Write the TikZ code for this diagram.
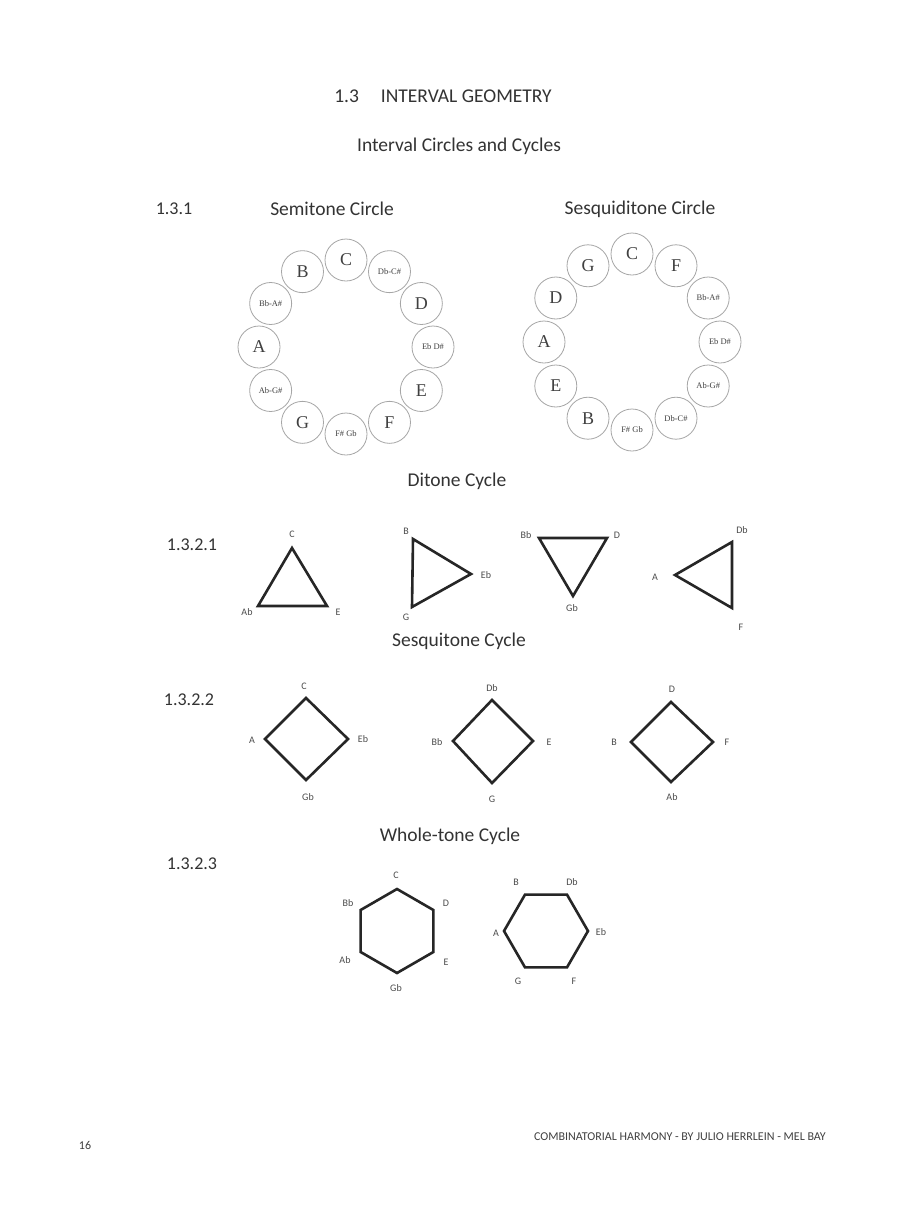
\documentclass[tikz,border=0pt]{standalone}
\usepackage{fontspec}
\setmainfont{Carlito}
\newfontfamily\notefont{Liberation Serif}
\usetikzlibrary{calc}
\tikzset{
    heading/.style={text=black!80,font=\fontsize{19.5}{22}\selectfont,inner sep=0pt},
    numbering/.style={heading,font=\fontsize{18}{22}\selectfont},
    notebig/.style={circle,draw=black!35,line width=0.8pt,minimum size=42pt,inner sep=0pt,
        text=black!75,font=\notefont\fontsize{18}{18}\selectfont},
    notesmall/.style={notebig,font=\notefont\fontsize{8.5}{8.5}\selectfont},
    cycleline/.style={black!85,line width=2.6pt,line join=miter},
    vlabel/.style={text=black!70,font=\fontsize{10}{10}\selectfont,inner sep=0pt},
    footer/.style={text=black!75,font=\fontsize{12}{13}\selectfont,inner sep=0pt}
}

\begin{document}
\begin{tikzpicture}[x=1pt,y=-1pt]
\useasboundingbox[fill=white] (0,0) rectangle (900,1210);

% headings
\node[heading] (title) at (443,96) {1.3\hspace{22pt}INTERVAL GEOMETRY};
\node[heading] (subtitle) at (459,146) {Interval Circles and Cycles};
\node[numbering] (num131) at (174,209) {1.3.1};
\node[heading] (semititle) at (332,209) {Semitone Circle};
\node[heading] (sesqtitle) at (640,209) {Sesquiditone Circle};

% semitone circle
\coordinate (semicentre) at (346,347);
\foreach \name/\lab/\sty [count=\i from 0] in {C/C/notebig,Db/Db-C\#/notesmall,D/D/notebig,
        Eb/Eb D\#/notesmall,E/E/notebig,F/F/notebig,Gb/F\# Gb/notesmall,G/G/notebig,
        Ab/Ab-G\#/notesmall,A/A/notebig,Bb/Bb-A\#/notesmall,B/B/notebig}
    \node[\sty] (semi\name) at ($(semicentre)+(-90+30*\i:87)$) {\lab};

% sesquiditone circle
\coordinate (sesqcentre) at (632,342);
\foreach \name/\lab/\sty [count=\i from 0] in {C/C/notebig,F/F/notebig,Bb/Bb-A\#/notesmall,
        Eb/Eb D\#/notesmall,Ab/Ab-G\#/notesmall,Db/Db-C\#/notesmall,Gb/F\# Gb/notesmall,
        B/B/notebig,E/E/notebig,A/A/notebig,D/D/notebig,G/G/notebig}
    \node[\sty] (sesq\name) at ($(sesqcentre)+(-90+30*\i:88)$) {\lab};

% ditone cycle
\node[heading] (dititle) at (457,481) {Ditone Cycle};
\node[numbering] (num1321) at (192,545) {1.3.2.1};

\coordinate (triaC) at (292,548);
\coordinate (triaE) at (327,606);
\coordinate (triaAb) at (258,606);
\draw[cycleline] (triaC) -- (triaE) -- (triaAb) -- cycle;
\node[vlabel] (labaC) at (292,534) {C};
\node[vlabel] (labaE) at (338,612) {E};
\node[vlabel] (labaAb) at (247,612) {Ab};

\coordinate (tribB) at (413,539);
\coordinate (tribEb) at (471,574);
\coordinate (tribG) at (412,607);
\draw[cycleline] (tribB) -- (tribEb) -- (tribG) -- cycle;
\node[vlabel] (labbB) at (406,531) {B};
\node[vlabel] (labbEb) at (486,575) {Eb};
\node[vlabel] (labbG) at (406,617) {G};

\coordinate (tricBb) at (539,538);
\coordinate (tricD) at (607,538);
\coordinate (tricGb) at (573,596);
\draw[cycleline] (tricBb) -- (tricD) -- (tricGb) -- cycle;
\node[vlabel] (labcBb) at (526,535) {Bb};
\node[vlabel] (labcD) at (617,535) {D};
\node[vlabel] (labcGb) at (572,608) {Gb};

\coordinate (tridA) at (675,575);
\coordinate (tridDb) at (732,542);
\coordinate (tridF) at (732,608);
\draw[cycleline] (tridA) -- (tridDb) -- (tridF) -- cycle;
\node[vlabel] (labdA) at (655,577) {A};
\node[vlabel] (labdDb) at (742,530) {Db};
\node[vlabel] (labdF) at (741,627) {F};

% sesquitone cycle
\node[heading] (sesqcycle) at (459,641) {Sesquitone Cycle};
\node[numbering] (num1322) at (189,700) {1.3.2.2};

\coordinate (sqaC) at (306,698);
\coordinate (sqaEb) at (348,739);
\coordinate (sqaGb) at (306,780);
\coordinate (sqaA) at (265,739);
\draw[cycleline] (sqaC) -- (sqaEb) -- (sqaGb) -- (sqaA) -- cycle;
\node[vlabel] (labsaC) at (304,686) {C};
\node[vlabel] (labsaEb) at (363,739) {Eb};
\node[vlabel] (labsaGb) at (308,797) {Gb};
\node[vlabel] (labsaA) at (252,740) {A};

\coordinate (sqbDb) at (492,700);
\coordinate (sqbE) at (533,741);
\coordinate (sqbG) at (492,783);
\coordinate (sqbBb) at (453,741);
\draw[cycleline] (sqbDb) -- (sqbE) -- (sqbG) -- (sqbBb) -- cycle;
\node[vlabel] (labsbDb) at (492,688) {Db};
\node[vlabel] (labsbE) at (549,742) {E};
\node[vlabel] (labsbG) at (492,799) {G};
\node[vlabel] (labsbBb) at (437,742) {Bb};

\coordinate (sqcD) at (671,702);
\coordinate (sqcF) at (713,742);
\coordinate (sqcAb) at (671,782);
\coordinate (sqcB) at (631,742);
\draw[cycleline] (sqcD) -- (sqcF) -- (sqcAb) -- (sqcB) -- cycle;
\node[vlabel] (labscD) at (672,689) {D};
\node[vlabel] (labscF) at (727,742) {F};
\node[vlabel] (labscAb) at (672,797) {Ab};
\node[vlabel] (labscB) at (614,742) {B};

% whole-tone cycle
\node[heading] (wholetitle) at (450,836) {Whole-tone Cycle};
\node[numbering] (num1323) at (192,864) {1.3.2.3};

\coordinate (hexacentre) at (397,931);
\foreach \name [count=\i from 0] in {C,D,E,Gb,Ab,Bb}
    \coordinate (hexa\name) at ($(hexacentre)+(-90+60*\i:42)$);
\draw[cycleline] (hexaC) -- (hexaD) -- (hexaE) -- (hexaGb) -- (hexaAb) -- (hexaBb) -- cycle;
\node[vlabel] (labhaC) at (396,875) {C};
\node[vlabel] (labhaD) at (446,903) {D};
\node[vlabel] (labhaE) at (446,962) {E};
\node[vlabel] (labhaGb) at (396,988) {Gb};
\node[vlabel] (labhaAb) at (345,960) {Ab};
\node[vlabel] (labhaBb) at (348,903) {Bb};

\coordinate (hexbcentre) at (546,931);
\foreach \name [count=\i from 0] in {Eb,F,G,A,B,Db}
    \coordinate (hexb\name) at ($(hexbcentre)+(60*\i:42)$);
\draw[cycleline] (hexbEb) -- (hexbF) -- (hexbG) -- (hexbA) -- (hexbB) -- (hexbDb) -- cycle;
\node[vlabel] (labhbB) at (516,882) {B};
\node[vlabel] (labhbDb) at (572,882) {Db};
\node[vlabel] (labhbEb) at (601,932) {Eb};
\node[vlabel] (labhbF) at (574,981) {F};
\node[vlabel] (labhbG) at (518,981) {G};
\node[vlabel] (labhbA) at (496,933) {A};

% footer
\node[footer] (pagenum) at (85,1145) {16};
\node[footer] (booktitle) at (680,1137) {COMBINATORIAL HARMONY - BY JULIO HERRLEIN - MEL BAY};
\end{tikzpicture}
\end{document}
